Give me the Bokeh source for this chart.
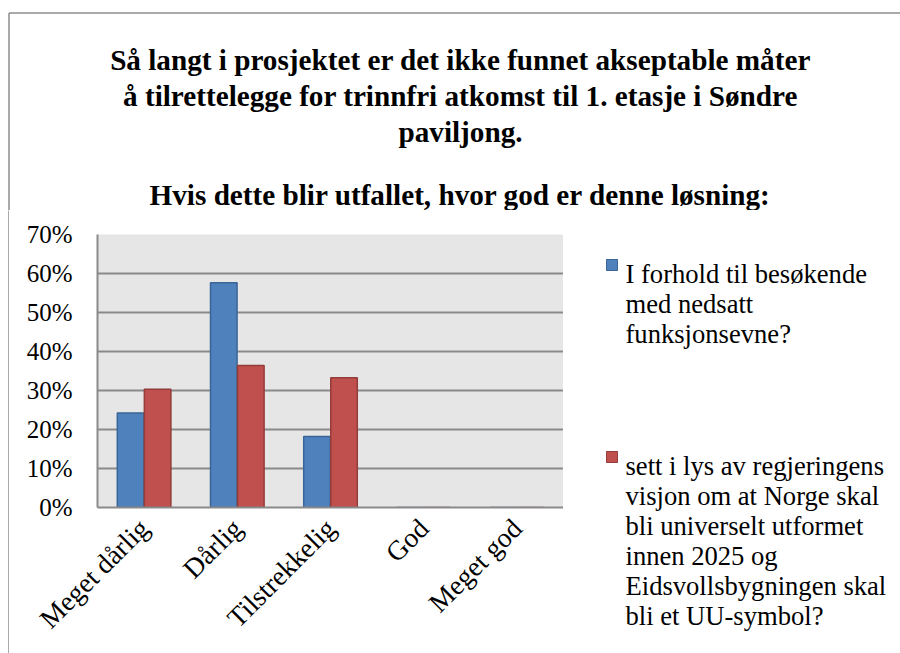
import math
from bokeh.plotting import figure
from bokeh.layouts import column, row
from bokeh.models import (FactorRange, Range1d, FixedTicker, NumeralTickFormatter,
                          ColumnDataSource)
from bokeh.core.properties import value
from bokeh.transform import dodge
from bokeh.embed import file_html
from bokeh.resources import INLINE

# ---------------- data ----------------
categories = ["Meget dårlig", "Dårlig", "Tilstrekkelig", "God", "Meget god"]
series1 = [0.242, 0.576, 0.182, 0.0, 0.0]
series2 = [0.303, 0.364, 0.333, 0.0, 0.0]
y_ticks = [0.0, 0.1, 0.2, 0.3, 0.4, 0.5, 0.6, 0.7]
title_lines = [
    "Så langt i prosjektet er det ikke funnet akseptable måter",
    "å tilrettelegge for trinnfri atkomst til 1. etasje i Søndre",
    "paviljong.",
    "Hvis dette blir utfallet, hvor god er denne løsning:",
]
legend1_lines = ["I forhold til besøkende", "med nedsatt", "funksjonsevne?"]
legend2_lines = ["sett i lys av regjeringens", "visjon om at Norge skal",
                 "bli universelt utformet", "innen 2025 og",
                 "Eidsvollsbygningen skal", "bli et UU-symbol?"]

# ---------------- styling / layout ----------------
FONT = "Liberation Serif"
BLUE, BLUE_LINE = "#4f81bd", "#3a6597"
RED, RED_LINE = "#c0504d", "#933c3a"
GRID = "#8a8a8a"
BORDER = "#8c8c8c"

PAGE_W, PAGE_H = 900, 653
TOP_H = 210                      # height of title strip
STRIP_W = 9                      # thin strip carrying the left chart border
FRAME_L, FRAME_T, FRAME_R, FRAME_B = 97, 234, 563, 507
BODY_H = PAGE_H - TOP_H


def blank(width, height, x0, x1, y0, y1):
    f = figure(width=width, height=height, x_range=Range1d(x0, x1),
               y_range=Range1d(y1, y0), x_axis_location=None, y_axis_location=None,
               output_backend="svg", toolbar_location=None, min_border=0,
               frame_align=False)
    f.outline_line_color = None
    f.grid.visible = False
    f.background_fill_color = "white"
    f.border_fill_color = "white"
    return f


# ---- title strip ----
top = blank(PAGE_W, TOP_H, 0, PAGE_W, 0, TOP_H)
top.segment(x0=[8.5, 8.5], y0=[12.5, 12.5], x1=[PAGE_W + 5, 8.5], y1=[12.5, TOP_H + 5],
            line_color=BORDER, line_width=1.5)
title_baselines = [59, 95, 131, 194]
top.text(x=[460] * len(title_lines), y=title_baselines, text=title_lines,
         text_font=value(FONT), text_font_style="bold", text_font_size="29.2px",
         text_align="center", text_baseline="alphabetic", text_color="black")

# ---- left border strip ----
strip = blank(STRIP_W, BODY_H, 0, STRIP_W, TOP_H, PAGE_H)
strip.segment(x0=[8.5], y0=[TOP_H - 5], x1=[8.5], y1=[PAGE_H + 5],
              line_color=BORDER, line_width=1.5)

# ---- main chart ----
p = figure(x_range=FactorRange(*categories), y_range=Range1d(0, 0.7),
           width=FRAME_R - STRIP_W, height=BODY_H,
           output_backend="svg", toolbar_location=None, frame_align=False,
           min_border_left=FRAME_L - STRIP_W, min_border_top=FRAME_T - TOP_H,
           min_border_right=0, min_border_bottom=PAGE_H - FRAME_B)
p.background_fill_color = "#e6e6e6"
p.border_fill_color = "white"
p.outline_line_color = None

source = ColumnDataSource(dict(cat=categories, s1=series1, s2=series2))
p.vbar(x=dodge("cat", -0.145, range=p.x_range), top="s1", width=0.285, source=source,
       fill_color=BLUE, line_color=BLUE_LINE, line_width=1.5)
p.vbar(x=dodge("cat", 0.145, range=p.x_range), top="s2", width=0.285, source=source,
       fill_color=RED, line_color=RED_LINE, line_width=1.5)

p.xgrid.grid_line_color = None
p.ygrid.ticker = FixedTicker(ticks=y_ticks)
p.ygrid.grid_line_color = GRID
p.ygrid.grid_line_width = 2
p.yaxis.ticker = FixedTicker(ticks=y_ticks)
p.yaxis.formatter = NumeralTickFormatter(format="0%")
for ax in (p.xaxis, p.yaxis):
    ax.axis_line_color = GRID
    ax.axis_line_width = 2
    ax.major_tick_line_color = None
    ax.minor_tick_line_color = None
    ax.major_label_text_font = FONT
    ax.major_label_text_color = "black"
p.yaxis.major_label_text_font_size = "25px"
p.xaxis.major_label_text_font_size = "27.5px"
p.yaxis.major_label_standoff = 19
p.xaxis.major_label_orientation = math.pi / 4
p.xaxis.major_label_standoff = 10

# ---- legend strip ----
leg = blank(PAGE_W - FRAME_R, BODY_H, FRAME_R, PAGE_W, TOP_H, PAGE_H)
legend_sets = [(legend1_lines, 273, BLUE, BLUE_LINE), (legend2_lines, 465, RED, RED_LINE)]
for lines, first_base, color, lcol in legend_sets:
    leg.quad(left=[606], right=[617], top=[first_base - 14], bottom=[first_base - 3],
             fill_color=color, line_color=lcol, line_width=1)
    leg.text(x=[625] * len(lines), y=[first_base + 30 * i for i in range(len(lines))],
             text=lines, text_font=value(FONT), text_font_size="26.6px",
             text_align="left", text_baseline="alphabetic", text_color="black")

layout = column(top, row(strip, p, leg))
open("out.html", "w").write(file_html(layout, INLINE))
